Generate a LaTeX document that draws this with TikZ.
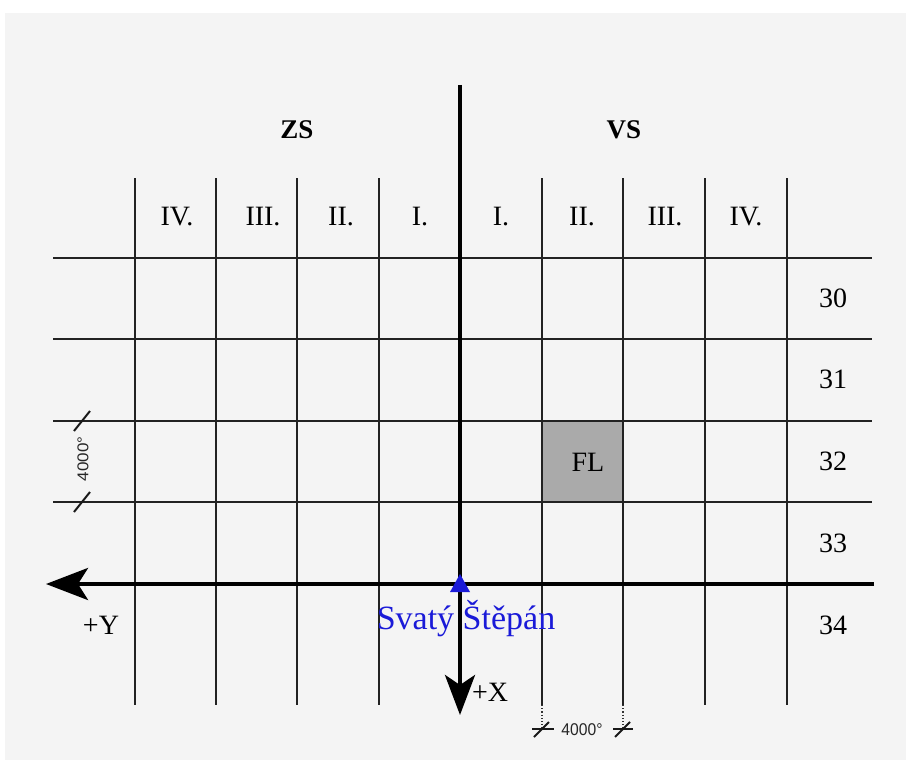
\documentclass[tikz,border=0pt]{standalone}
\usepackage{fontspec}
\setmainfont{Liberation Serif}
\newfontfamily\dimfont{Liberation Sans}
\usetikzlibrary{arrows.meta}
\definecolor{bgc}{HTML}{F4F4F4}
\definecolor{flc}{HTML}{AAAAAA}
\definecolor{gridc}{HTML}{222222}
\definecolor{origc}{HTML}{1A1AD8}
\begin{document}
\begin{tikzpicture}[x=1pt,y=-1pt,
  gridline/.style={line width=1.6pt, draw=gridc},
  axisline/.style={line width=4.2pt, draw=black},
  lbl/.style={font=\fontsize{28}{28}\selectfont, inner sep=0pt, text=black},
  head/.style={font=\fontsize{27}{27}\selectfont\bfseries, inner sep=0pt},
  dimtxt/.style={font=\dimfont\fontsize{17}{17}\selectfont, inner sep=0pt, text=black!85, xscale=0.92},
  tick/.style={line width=2pt, draw=black!90},
  ext/.style={line width=1.2pt, draw=black!80, dotted}]
\useasboundingbox (0,0) rectangle (906,760);
\fill[bgc] (5,13) rectangle (906,760);
% FL cell
\fill[flc] (542,421) rectangle (623,502);
% grid
\foreach \x in {135,216,297,379,542,623,705,787}
  \draw[gridline] (\x,178) -- (\x,705);
\foreach \y in {258,339,421,502}
  \draw[gridline] (53,\y) -- (872,\y);
% axes
\coordinate (O) at (460,584);
\coordinate (xs) at (460,85);
\coordinate (xe) at (460,715);
\coordinate (ys) at (874,584);
\coordinate (ye) at (46,584);
\draw[axisline, -{Stealth[length=42pt,width=32pt,inset=10pt]}] (ys) -- (ye);
\draw[axisline, -{Stealth[length=40pt,width=30pt,inset=10pt]}] (xs) -- (xe);
\fill[origc] ([yshift=10pt]O) -- ([xshift=10pt,yshift=-8pt]O) -- ([xshift=-10pt,yshift=-8pt]O) -- cycle;
% headers
\node[head] (zs) at (297,130) {ZS};
\node[head] (vs) at (624,130) {VS};
% column labels
\foreach \t/\x [count=\i] in {IV./177,III./263,II./341,I./420,I./501,II./582,III./665,IV./746}
  \node[lbl] (c\i) at (\x,217) {\t};
% row labels
\foreach \t/\y in {30/298,31/379,32/461,33/543,34/625}
  \node[lbl] (r\t) at (833,\y) {\t};
\node[lbl] (fl) at (588,462) {FL};
\node[lbl] (py) at (101,625) {+Y};
\node[lbl, anchor=west] (px) at (472,692) {+X};
\node[lbl, text=origc, font=\fontsize{34}{34}\selectfont] (sv) at (466,619) {Svatý Štěpán};
% left dimension
\coordinate (la) at (82,421);
\coordinate (lb) at (82,502);
\draw[tick] ([shift={(-8,10)}]la) -- ([shift={(8,-10)}]la);
\draw[tick] ([shift={(-8,10)}]lb) -- ([shift={(8,-10)}]lb);
\node[dimtxt, rotate=90] (ld) at (83,459) {4000°};
% bottom dimension
\coordinate (ba) at (542,729);
\coordinate (bb) at (623,729);
\draw[ext] (542,705) -- (ba);
\draw[ext] (623,705) -- (bb);
\draw[tick] ([xshift=-10pt]ba) -- ([xshift=12pt]ba);
\draw[tick] ([xshift=-10pt]bb) -- ([xshift=10pt]bb);
\draw[tick] ([shift={(-8,8)}]ba) -- ([shift={(7,-7)}]ba);
\draw[tick] ([shift={(-8,8)}]bb) -- ([shift={(7,-7)}]bb);
\node[dimtxt] (bd) at (582,730) {4000°};
\end{tikzpicture}
\end{document}
